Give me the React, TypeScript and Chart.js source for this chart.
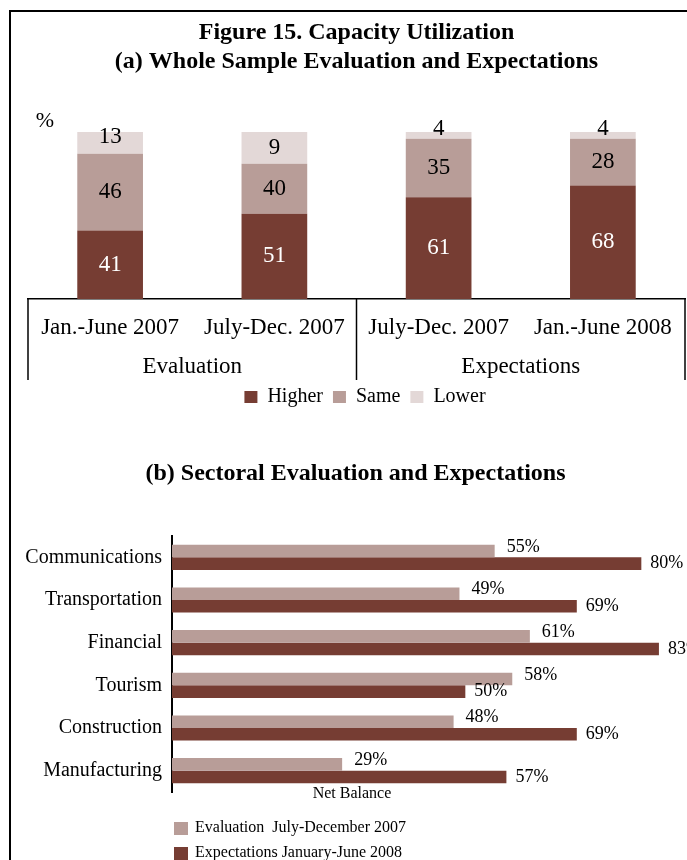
import React, { useEffect, useRef } from 'react';
import { Chart, registerables } from 'chart.js';

Chart.register(...registerables);

const SERIF = "'Liberation Serif', 'Times New Roman', serif";

// ---------- (a) Whole sample evaluation and expectations ----------
const periods = ['Jan.-June 2007', 'July-Dec. 2007', 'July-Dec. 2007', 'Jan.-June 2008'];
const groupNames = ['Evaluation', 'Expectations'];
const groupSizes = [2, 2];
const seriesNames = ['Higher', 'Same', 'Lower'];
// segment heights as drawn in the picture (%)
const higher = [41, 51, 61, 68];
const same = [46, 30, 35, 28];
const lower = [13, 19, 4, 4];
// value labels as printed on the picture
const higherText = ['41', '51', '61', '68'];
const sameText = ['46', '40', '35', '28'];
const lowerText = ['13', '9', '4', '4'];

// ---------- (b) Sectoral evaluation and expectations ----------
const sectors = ['Communications', 'Transportation', 'Financial', 'Tourism', 'Construction', 'Manufacturing'];
const sectorSeries = ['Evaluation  July-December 2007', 'Expectations January-June 2008'];
const evaluation = [55, 49, 61, 58, 48, 29];
const expectations = [80, 69, 83, 50, 69, 57];

const DARK = '#763D33';
const MID = '#B89D98';
const LIGHT = '#E3D8D7';

const topPlugin = {
  id: 'topExtras',
  afterDatasetsDraw(chart: any) {
    const ctx = chart.ctx;
    const texts = [higherText, sameText, lowerText];
    ctx.save();
    ctx.font = `23px ${SERIF}`;
    ctx.textAlign = 'center';
    ctx.textBaseline = 'middle';
    chart.data.datasets.forEach((_ds: any, d: number) => {
      const meta = chart.getDatasetMeta(d);
      meta.data.forEach((el: any, i: number) => {
        const { x, y, base } = el.getProps(['x', 'y', 'base'], true);
        const h = Math.abs(base - y);
        let cy = (y + base) / 2;
        if (h < 25) cy -= 6;
        ctx.fillStyle = d === 0 ? '#ffffff' : '#000000';
        ctx.fillText(texts[d][i], x, cy);
      });
    });
    ctx.restore();
  },
  afterDraw(chart: any) {
    const { ctx, chartArea } = chart;
    const xs = chart.scales.x;
    const step = xs.getPixelForValue(1) - xs.getPixelForValue(0);
    const bottom = chartArea.bottom;
    const bounds: number[] = [xs.getPixelForValue(0) - step / 2];
    let idx = 0;
    groupSizes.forEach((n) => {
      idx += n;
      bounds.push(xs.getPixelForValue(idx - 1) + step / 2);
    });
    ctx.save();
    ctx.strokeStyle = '#000';
    ctx.lineWidth = 1.5;
    bounds.forEach((b) => {
      ctx.beginPath();
      ctx.moveTo(b, bottom);
      ctx.lineTo(b, bottom + 81);
      ctx.stroke();
    });
    ctx.fillStyle = '#000';
    ctx.font = `23px ${SERIF}`;
    ctx.textAlign = 'center';
    ctx.textBaseline = 'middle';
    groupNames.forEach((g, k) => ctx.fillText(g, (bounds[k] + bounds[k + 1]) / 2, bottom + 68));
    ctx.font = `22px ${SERIF}`;
    ctx.fillText('%', chartArea.left + 17, chartArea.top - 11);
    ctx.restore();
  },
};

const sectorPlugin = {
  id: 'sectorExtras',
  afterDatasetsDraw(chart: any) {
    const ctx = chart.ctx;
    ctx.save();
    ctx.font = `18px ${SERIF}`;
    ctx.fillStyle = '#000';
    ctx.textAlign = 'left';
    ctx.textBaseline = 'middle';
    chart.data.datasets.forEach((ds: any, d: number) => {
      chart.getDatasetMeta(d).data.forEach((el: any, i: number) => {
        const { x, y } = el.getProps(['x', 'y'], true);
        ctx.fillText(`${ds.data[i]}%`, x + (d === 0 ? 12 : 9), y + (d === 0 ? -4 : 0));
      });
    });
    ctx.restore();
  },
  afterDraw(chart: any) {
    const { ctx, chartArea } = chart;
    ctx.save();
    ctx.fillStyle = '#000';
    ctx.font = `16px ${SERIF}`;
    ctx.textBaseline = 'middle';
    ctx.textAlign = 'center';
    ctx.fillText('Net Balance', chartArea.left + 180, chartArea.bottom + 2);
    ctx.textAlign = 'left';
    chart.data.datasets.forEach((ds: any, d: number) => {
      const cy = chartArea.bottom + 36 + d * 25;
      ctx.fillStyle = ds.backgroundColor;
      ctx.fillRect(chartArea.left + 2, cy - 6, 14, 13);
      ctx.fillStyle = '#000';
      ctx.fillText(ds.label, chartArea.left + 23, cy);
    });
    ctx.restore();
  },
};

export default function App() {
  const topRef = useRef<HTMLCanvasElement>(null);
  const botRef = useRef<HTMLCanvasElement>(null);

  useEffect(() => {
    Chart.defaults.font.family = SERIF;
    const top = new Chart(topRef.current as HTMLCanvasElement, {
      type: 'bar',
      data: {
        labels: periods,
        datasets: [
          { label: seriesNames[0], data: higher, backgroundColor: DARK },
          { label: seriesNames[1], data: same, backgroundColor: MID },
          { label: seriesNames[2], data: lower, backgroundColor: LIGHT },
        ],
      },
      options: {
        animation: false,
        responsive: false,
        datasets: { bar: { barPercentage: 0.8, categoryPercentage: 0.5 } },
        layout: { padding: 0 },
        plugins: {
          title: {
            display: true,
            fullSize: false,
            text: ['Figure 15. Capacity Utilization', '(a) Whole Sample Evaluation and Expectations'],
            font: { family: SERIF, size: 24, weight: 'bold' },
            color: '#000',
            padding: { top: 6.6, bottom: 55.8 },
          },
          legend: {
            position: 'bottom',
            labels: {
              font: { family: SERIF, size: 20 },
              color: '#000',
              boxWidth: 13,
              boxHeight: 12,
              padding: 10,
            },
          },
          tooltip: { enabled: false },
        },
        scales: {
          x: {
            stacked: true,
            grid: { display: false, drawTicks: false },
            border: { display: true, color: '#000', width: 1.5 },
            ticks: { font: { family: SERIF, size: 23 }, color: '#000', padding: 15, maxRotation: 0, autoSkip: false },
            afterFit: (s: any) => {
              s.height = 78;
            },
          },
          y: {
            stacked: true,
            min: 0,
            max: 100,
            ticks: { display: false },
            grid: { display: false },
            border: { display: false },
            afterFit: (s: any) => {
              s.width = 17;
            },
          },
          y2: {
            type: 'linear',
            position: 'right',
            ticks: { display: false },
            grid: { display: false },
            border: { display: false },
            afterFit: (s: any) => {
              s.width = 34;
            },
          },
        },
      } as any,
      plugins: [topPlugin],
    });

    const bot = new Chart(botRef.current as HTMLCanvasElement, {
      type: 'bar',
      data: {
        labels: sectors,
        datasets: [
          { label: sectorSeries[0], data: evaluation, backgroundColor: MID },
          { label: sectorSeries[1], data: expectations, backgroundColor: DARK },
        ],
      },
      options: {
        indexAxis: 'y',
        animation: false,
        responsive: false,
        datasets: { bar: { barPercentage: 1, categoryPercentage: 0.59 } },
        layout: { padding: { left: 0, right: 0, top: 0, bottom: 68 } },
        plugins: {
          title: {
            display: true,
            text: '(b) Sectoral Evaluation and Expectations',
            font: { family: SERIF, size: 24, weight: 'bold' },
            color: '#000',
            padding: { top: 39.6, bottom: 47.6 },
          },
          legend: { display: false },
          tooltip: { enabled: false },
        },
        scales: {
          x: { display: false, min: 0, max: 90 },
          y: {
            grid: { display: false, drawTicks: false },
            border: { display: true, color: '#000', width: 2 },
            ticks: { font: { family: SERIF, size: 20 }, color: '#000', padding: 10 },
            afterFit: (s: any) => {
              s.width = 161;
            },
          },
        },
      } as any,
      plugins: [sectorPlugin],
    });

    return () => {
      top.destroy();
      bot.destroy();
    };
  }, []);

  return (
    <div
      style={{
        position: 'fixed',
        left: 9,
        top: 10,
        width: 678,
        height: 860,
        borderLeft: '2px solid #000',
        borderTop: '2px solid #000',
        boxSizing: 'border-box',
        overflow: 'hidden',
        background: '#fff',
      }}
    >
      <canvas ref={topRef} width={708} height={405} style={{ position: 'absolute', left: 0, top: 0, width: 708, height: 405 }} />
      <canvas ref={botRef} width={689} height={440} style={{ position: 'absolute', left: 0, top: 408, width: 689, height: 440 }} />
    </div>
  );
}
